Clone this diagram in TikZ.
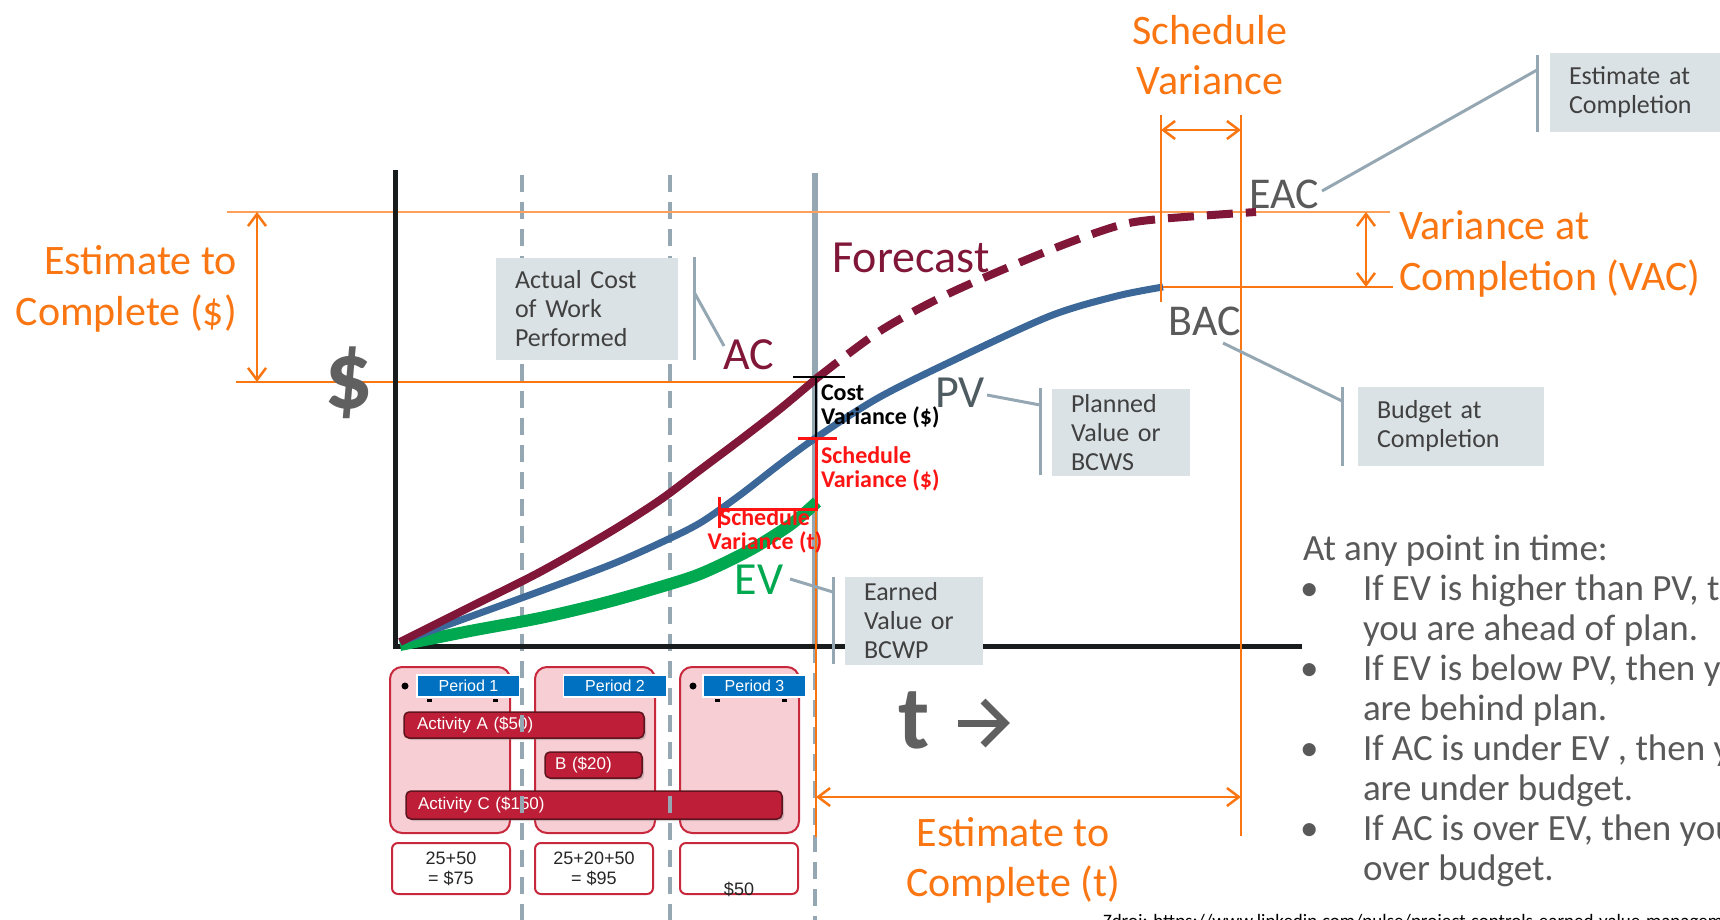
\documentclass[tikz,border=0pt]{standalone}
\usepackage{fontspec}
\setmainfont{Carlito}
\newfontfamily\arialf{Liberation Sans}
\usetikzlibrary{arrows.meta,shadows}
\definecolor{orangeC}{RGB}{250,118,18}
\definecolor{orangeL}{RGB}{252,160,90}
\definecolor{maroonC}{RGB}{128,22,56}
\definecolor{blueC}{RGB}{59,104,152}
\definecolor{greenC}{RGB}{0,168,80}
\definecolor{grayL}{RGB}{148,167,178}
\definecolor{boxF}{RGB}{219,226,229}
\definecolor{boxT}{RGB}{64,64,64}
\definecolor{bigT}{RGB}{90,90,90}
\definecolor{pvT}{RGB}{78,91,97}
\definecolor{pinkF}{RGB}{246,206,212}
\definecolor{redB}{RGB}{200,40,60}
\definecolor{actF}{RGB}{190,30,55}
\definecolor{actB}{RGB}{95,20,30}
\definecolor{tabB}{RGB}{0,112,192}
\definecolor{svRed}{RGB}{255,20,20}
\definecolor{axisC}{RGB}{25,28,28}
\definecolor{textG}{RGB}{89,89,89}
\definecolor{dollarG}{RGB}{96,96,96}
\newcommand{\fsz}[2]{\fontsize{#1}{#2}\selectfont}
\tikzset{
  every node/.style={inner sep=0pt, outer sep=0pt},
  oline/.style={draw=orangeC, line width=2.5pt},
  olinethin/.style={draw=orangeL, line width=2pt},
  dimarrow/.style={draw=orangeC, line width=2.5pt, {Straight Barb[length=12pt,width=18pt]}-{Straight Barb[length=12pt,width=18pt]}},
  gridline/.style={draw=grayL, line width=4pt, dash pattern=on 17pt off 10pt},
  statusline/.style={draw=grayL, line width=6pt},
  axisline/.style={draw=axisC, line width=5pt},
  leader/.style={draw=grayL, line width=3pt},
  infobox/.style={fill=boxF, text=boxT, anchor=north west, align=left, inner xsep=19pt, inner ysep=0pt, font=\fsz{26}{29}},
  biglbl/.style={font=\fsz{46}{50}},
  otext/.style={text=orangeC, font=\fsz{42}{51}},
  acline/.style={draw=maroonC, line width=8pt},
  fcline/.style={draw=maroonC, line width=8pt, dash pattern=on 26pt off 13pt},
  pvline/.style={draw=blueC, line width=7pt},
  evline/.style={draw=greenC, line width=12pt},
  cvmark/.style={draw=black, line width=1.8pt},
  svmark/.style={draw=svRed, line width=3pt},
  cvtext/.style={font=\bfseries\fsz{24}{23.5}, align=left},
  periodbox/.style={fill=pinkF, draw=redB, line width=2pt, rounded corners=12pt},
  tabbox/.style={fill=tabB, draw=white, line width=1.5pt, text=white, font=\arialf\fsz{16}{18}, minimum width=103pt, minimum height=22pt},
  actbar/.style={fill=actF, draw=actB, line width=1.5pt, rounded corners=5pt, text=white, font=\arialf\fsz{17}{19}, align=left, minimum height=26pt, drop shadow={shadow xshift=2pt, shadow yshift=-2pt, opacity=0.35}},
  sumbox/.style={fill=white, draw=redB, line width=2pt, rounded corners=6pt},
  sumtext/.style={font=\arialf\fsz{18}{20}, align=center, text=black!85},
  bullettxt/.style={text=textG, font=\fsz{37}{40}, anchor=base west, align=left},
  tarrow/.style={draw=dollarG, line width=7pt, miter limit=4},
  dotmark/.style={fill=black, minimum width=5pt, minimum height=3pt},
}
\begin{document}
\begin{tikzpicture}[x=1pt,y=-1pt]
\useasboundingbox (0,0) rectangle (1720,920);

% ---------- period area ----------
\node[periodbox, minimum width=120pt, minimum height=166pt] (p1) at (450,750) {};
\node[periodbox, minimum width=120pt, minimum height=166pt] (p2) at (595,750) {};
\node[periodbox, minimum width=119pt, minimum height=166pt] (p3) at (739.5,750) {};
\node[circle, fill=black, minimum size=7pt] (pb1) at (405,686) {};
\node[circle, fill=black, minimum size=7pt] (pb3) at (693,686) {};
\node[dotmark] (m1) at (429,700) {};
\node[dotmark] (m2) at (495,700) {};
\node[dotmark] (m3) at (717,700) {};
\node[dotmark] (m4) at (784,700) {};
\node[tabbox] (tab1) at (468.5,686) {Period 1};
\node[tabbox] (tab2) at (615,686) {Period 2};
\node[tabbox] (tab3) at (754.5,686) {Period 3};
\node[actbar, minimum width=240pt, text width=214pt, inner xsep=13pt] (actA) at (524,725) {Activity A (\$50)};
\node[actbar, minimum width=97pt, text width=77pt, inner xsep=10pt] (actB) at (593.5,765) {B (\$20)};
\node[actbar, minimum width=376pt, minimum height=28pt, text width=352pt, inner xsep=12pt] (actC) at (594,805) {Activity C (\$150)};
\node[sumbox, minimum width=118pt, minimum height=51pt] (s1) at (451,868.5) {};
\node[sumbox, minimum width=118pt, minimum height=51pt] (s2) at (594,868.5) {};
\node[sumbox, minimum width=118pt, minimum height=51pt] (s3) at (739,868.5) {};
\node[sumtext] (s1t) at (451,869) {25+50\\= \$75};
\node[sumtext] (s2t) at (594,869) {25+20+50\\= \$95};
\node[sumtext] (s3t) at (739,889) {\$50};

% ---------- grid / status lines ----------
\coordinate (g1a) at (522,175); \coordinate (g1b) at (522,920);
\coordinate (g2a) at (670,175); \coordinate (g2b) at (670,920);
\coordinate (sta) at (815,173); \coordinate (stb) at (815,646); \coordinate (stc) at (815,920);
\draw[gridline] (g1a) -- (g1b);
\draw[gridline] (g2a) -- (g2b);
\draw[statusline] (sta) -- (stb);
\draw[gridline] (stb) -- (stc);

% ---------- orange reference lines ----------
\coordinate (topL) at (227,212); \coordinate (topR) at (1390,212);
\coordinate (acH) at (236,382); \coordinate (acPt) at (816,382);
\coordinate (bacL) at (1147,287); \coordinate (bacR) at (1393,287);
\draw[olinethin] (topL) -- (topR);
\draw[oline, line width=2pt] (acH) -- (acPt);
\draw[oline] (bacL) -- (bacR);

% ---------- axes ----------
\coordinate (yTop) at (395,170); \coordinate (yBot) at (395,648);
\coordinate (xBeg) at (393,646); \coordinate (xEnd) at (1302,646);
\draw[axisline] (yTop) -- (yBot);
\draw[axisline] (xBeg) -- (xEnd);

% ---------- info box AC (over grid lines) ----------
\node[infobox, minimum width=182pt, minimum height=102pt, text width=144pt] (acbox) at (496,258) {Actual Cost\\of Work\\Performed};

% ---------- curves ----------
\draw[evline] plot[smooth] coordinates {(400,645) (470,631) (540,618) (600,604) (650,590) (700,574) (750,550) (790,525) (817,502)};
\draw[pvline] plot[smooth] coordinates {(400,642) (527,596) (610,565) (660,543) (700,523) (740,495) (780,464) (817,437) (878,398) (950,362) (1050,316) (1117,296) (1163,287)};
\draw[acline] plot[smooth] coordinates {(400,642) (470,607) (540,572) (610,532) (660,500) (700,470) (740,440) (780,409) (817,378)};
\draw[fcline] plot[smooth] coordinates {(817,378) (880,331) (950,293) (1050,250) (1117,226) (1160,219) (1256,212)};

% ---------- status orange line and variance marks ----------
\coordinate (stO1) at (816,382); \coordinate (stO2) at (816,837);
\draw[oline] (stO1) -- (stO2);
\coordinate (cvTop) at (816,377); \coordinate (cvBot) at (816,438); \coordinate (svBot) at (816,509);
\coordinate (svtL) at (719,509);
\coordinate (cvT1) at (793,377); \coordinate (cvT2) at (845,377);
\coordinate (svT1) at (798,438); \coordinate (svT2) at (837,438);
\coordinate (svK1) at (719,497); \coordinate (svK2) at (719,528);
\draw[cvmark] (cvT1) -- (cvT2);
\draw[cvmark] (cvTop) -- (cvBot);
\draw[svmark] (svT1) -- (svT2);
\draw[svmark] (cvBot) -- (svBot) -- (svtL);
\draw[svmark] (svK1) -- (svK2);
\node[cvtext, anchor=west, text=black] (cvlbl) at (821,406.5) {Cost\\Variance (\$)};
\node[cvtext, anchor=west, text=svRed] (svdlbl) at (821,469) {Schedule\\Variance (\$)};
\node[cvtext, align=center, text=svRed] (svtlbl) at (765,531) {Schedule\\Variance (t)};

% ---------- right-side orange lines ----------
\coordinate (svL1) at (1161,115); \coordinate (svL2) at (1161,302);
\coordinate (svR1) at (1241,115); \coordinate (svR2) at (1241,836);
\draw[oline] (svL1) -- (svL2);
\draw[oline] (svR1) -- (svR2);

% ---------- dimension arrows ----------
\coordinate (etcA) at (257,212); \coordinate (etcB) at (257,382);
\draw[dimarrow] (etcA) -- (etcB);
\coordinate (svA) at (1161,130); \coordinate (svB) at (1241,130);
\draw[dimarrow] (svA) -- (svB);
\coordinate (vacA) at (1366,212); \coordinate (vacB) at (1366,287);
\draw[dimarrow] (vacA) -- (vacB);
\coordinate (etctA) at (816,797); \coordinate (etctB) at (1241,797);
\draw[dimarrow] (etctA) -- (etctB);

% ---------- orange texts ----------
\node[otext, anchor=east, align=right] (etcD) at (237,289) {Estimate to\\Complete (\$)};
\node[otext, align=center, font=\fsz{42}{50}] (svT) at (1210,55) {Schedule\\Variance};
\node[otext, anchor=west, align=left] (vacT) at (1399,253.5) {Variance at\\Completion (VAC)};
\node[otext, align=center, font=\fsz{42}{50}] (etcT) at (1013,860) {Estimate to\\Complete (t)};

% ---------- big labels ----------
\node[biglbl, text=maroonC] (lblFc) at (911,258) {Forecast};
\node[biglbl, text=maroonC] (lblAC) at (749,355) {AC};
\node[biglbl, text=pvT] (lblPV) at (960,393) {PV};
\node[biglbl, text=greenC] (lblEV) at (759,580) {EV};
\node[biglbl, text=bigT, font=\fsz{44}{48}] (lblEAC) at (1284,194) {EAC};
\node[biglbl, text=bigT, font=\fsz{44}{48}] (lblBAC) at (1205,321) {BAC};
\node[text=dollarG, font=\bfseries\fsz{96}{96}] (dollar) at (349,383) {\$};
\node[text=dollarG, font=\bfseries\fsz{90}{90}] (tlbl) at (914,720) {t};
\coordinate (ta1) at (958,723); \coordinate (ta2) at (1003,723);
\coordinate (th1) at (983,701); \coordinate (th2) at (1005,723); \coordinate (th3) at (983,745);
\draw[tarrow] (ta1) -- (ta2);
\draw[tarrow] (th1) -- (th2) -- (th3);

% ---------- info boxes and leaders ----------
\coordinate (acBar1) at (694,257); \coordinate (acBar2) at (694,360); \coordinate (acBarM) at (694,292);
\coordinate (acLd) at (724,346);
\draw[leader] (acBar1) -- (acBar2);
\draw[leader] (acBarM) -- (acLd);

\node[infobox, minimum width=138pt, minimum height=87pt, text width=100pt] (pvbox) at (1052,389) {Planned\\Value or\\BCWS};
\coordinate (pvBar1) at (1040,388); \coordinate (pvBar2) at (1040,475); \coordinate (pvBarM) at (1040,405);
\coordinate (pvLd) at (987,395);
\draw[leader] (pvBar1) -- (pvBar2);
\draw[leader] (pvLd) -- (pvBarM);

\node[infobox, minimum width=138pt, minimum height=88pt, text width=100pt] (evbox) at (845,577) {Earned\\Value or\\BCWP};
\coordinate (evBar1) at (833,577); \coordinate (evBar2) at (833,664); \coordinate (evBarM) at (833,592);
\coordinate (evLd) at (790,579);
\draw[leader] (evBar1) -- (evBar2);
\draw[leader] (evLd) -- (evBarM);

\node[infobox, minimum width=186pt, minimum height=79pt, text width=148pt] (bacbox) at (1358,387) {Budget at\\Completion};
\coordinate (bacBar1) at (1342,387); \coordinate (bacBar2) at (1342,466); \coordinate (bacBarM) at (1342,401);
\coordinate (bacLd) at (1223,343);
\draw[leader] (bacBar1) -- (bacBar2);
\draw[leader] (bacLd) -- (bacBarM);

\node[infobox, minimum width=190pt, minimum height=79pt, text width=152pt] (eacbox) at (1550,53) {Estimate at\\Completion};
\coordinate (eacBar1) at (1537,55); \coordinate (eacBar2) at (1537,132); \coordinate (eacBarM) at (1537,70);
\coordinate (eacLd) at (1322,191);
\draw[leader] (eacBar1) -- (eacBar2);
\draw[leader] (eacLd) -- (eacBarM);

% ---------- explanation text ----------
\node[bullettxt] (pit) at (1303,560) {At any point in time:};
\node[bullettxt] (b1) at (1300,600) {\textbullet};
\node[bullettxt] (i1) at (1363,640) {If EV is higher than PV, then\\you are ahead of plan.};
\node[bullettxt] (b2) at (1300,680) {\textbullet};
\node[bullettxt] (i2) at (1363,720) {If EV is below PV, then you\\are behind plan.};
\node[bullettxt] (b3) at (1300,760) {\textbullet};
\node[bullettxt] (i3) at (1363,800) {If AC is under EV , then you\\are under budget.};
\node[bullettxt] (b4) at (1300,840) {\textbullet};
\node[bullettxt] (i4) at (1363,880) {If AC is over EV, then you are\\over budget.};

\node[anchor=base west, font=\fsz{19}{22}, text=black] (src) at (1103,927) {Zdroj: https://www.linkedin.com/pulse/project-controls-earned-value-management};
\end{tikzpicture}
\end{document}
